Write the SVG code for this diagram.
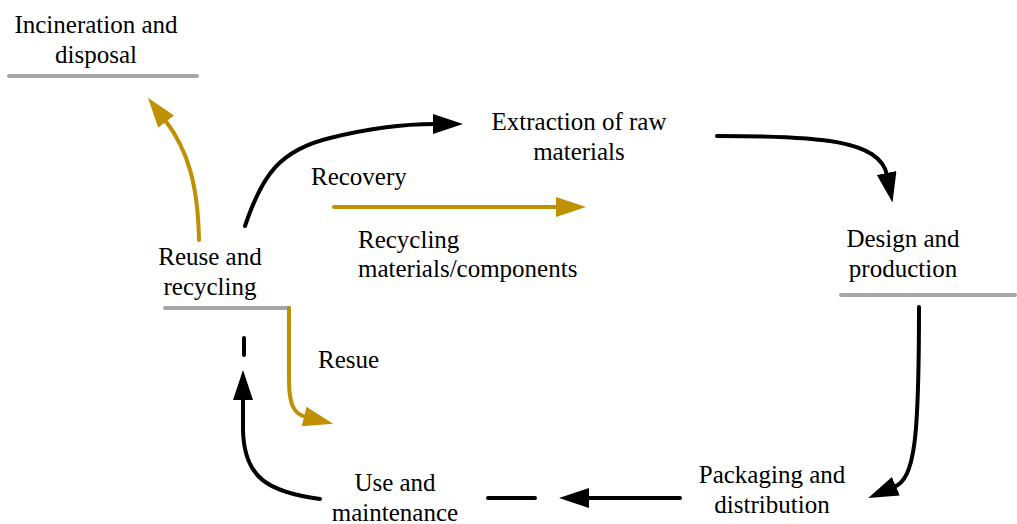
<svg xmlns="http://www.w3.org/2000/svg" width="1017" height="524" viewBox="0 0 1017 524">
<style>
text{font-family:'Liberation Serif','Tinos','Times New Roman','DejaVu Serif',serif;font-size:25px;fill:#000}
.c{text-anchor:middle}
.base{stroke:#A6A6A6;stroke-width:4;stroke-linecap:round;fill:none}
.blk{stroke:#000;stroke-width:4;fill:none;stroke-linecap:round}
.gld{stroke:#BF9000;stroke-width:4;fill:none;stroke-linecap:round}
</style>
<defs>
<marker id="ab" markerUnits="userSpaceOnUse" viewBox="0 0 30 20" markerWidth="30" markerHeight="20" refX="2" refY="10" orient="auto"><path d="M0,0 L30,10 L0,20 z" fill="#000"/></marker>
<marker id="ag" markerUnits="userSpaceOnUse" viewBox="0 0 30 20" markerWidth="30" markerHeight="20" refX="2" refY="10" orient="auto"><path d="M0,0 L30,10 L0,20 z" fill="#BF9000"/></marker>
</defs>
<rect width="1017" height="524" fill="#fff"/>
<g id="incineration" font-family="Liberation Serif, serif">
<text class="c" x="96" y="33">Incineration and</text>
<text class="c" x="96" y="63">disposal</text>
<line class="base" x1="9" y1="76" x2="197" y2="76"/>
</g>
<g id="extraction">
<text class="c" x="579" y="130">Extraction of raw</text>
<text class="c" x="579" y="160">materials</text>
</g>
<g id="design">
<text class="c" x="903" y="247">Design and</text>
<text class="c" x="903" y="277">production</text>
<line class="base" x1="841" y1="295" x2="1015" y2="295"/>
</g>
<g id="packaging">
<text class="c" x="772" y="483">Packaging and</text>
<text class="c" x="772" y="513">distribution</text>
</g>
<g id="use">
<text class="c" x="395" y="491">Use and</text>
<text class="c" x="395" y="521">maintenance</text>
</g>
<g id="reuse">
<text class="c" x="210" y="265">Reuse and</text>
<text class="c" x="210" y="295">recycling</text>
<line class="base" x1="165" y1="308" x2="289" y2="308"/>
</g>
<g id="connectors">
<path class="blk" d="M245,226 C262,175 280,150 330,138 C370,128 400,124 435,124" marker-end="url(#ab)"/>
<path class="blk" d="M717,136 C820,136 880,140 887,175" marker-end="url(#ab)"/>
<path class="blk" d="M919,307 C919,440 915,478 894,487" marker-end="url(#ab)"/>
<path class="blk" d="M680,498 L587,498" marker-end="url(#ab)"/>
<line class="blk" x1="488" y1="498" x2="535" y2="498"/>
<path class="blk" d="M320,499 C268,492 244,478 243,430 L243,398" marker-end="url(#ab)"/>
<line class="blk" x1="244" y1="338" x2="244" y2="355"/>
<path class="gld" d="M199,240 C198,185 188,150 165,120" marker-end="url(#ag)"/>
<path class="gld" d="M289,308 L289,380 C289,405 294,414 306,417" marker-end="url(#ag)"/>
<path class="gld" d="M334,207 L558,207" marker-end="url(#ag)"/>
<text x="311" y="185">Recovery</text>
<text x="358" y="248">Recycling</text>
<text x="358" y="277">materials/components</text>
<text x="318" y="368">Resue</text>
</g>
</svg>
